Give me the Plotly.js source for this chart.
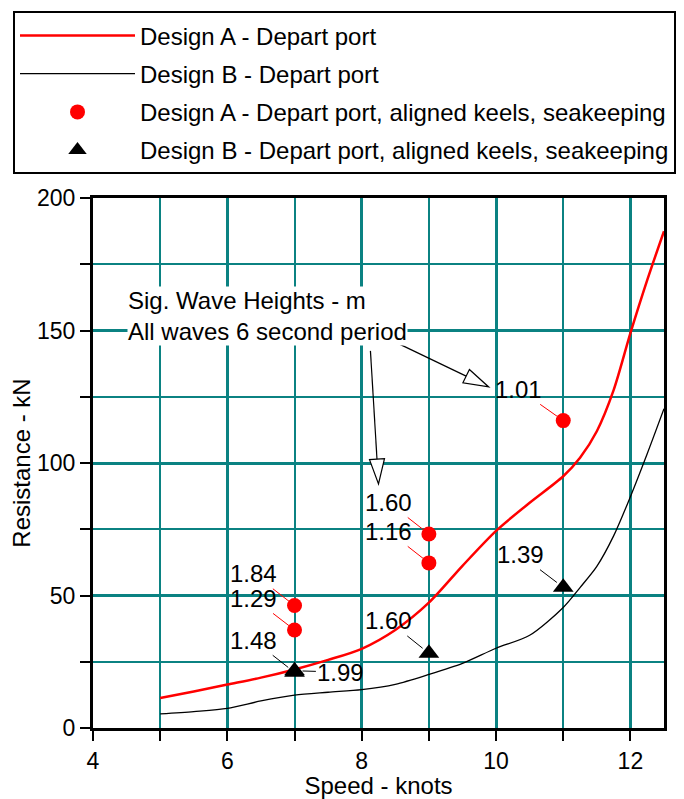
<!DOCTYPE html>
<html><head><meta charset="utf-8">
<script src="https://cdn.plot.ly/plotly-3.0.1.min.js"></script>
<style>html,body{margin:0;padding:0;background:#fff;}</style>
</head><body><div id="chart" style="width:684px;height:799px;"></div>
<script>
// ---- data ----
const speedA = [5.0,5.5,6.0,6.5,7.0,7.5,8.0,8.5,9.0,9.5,10.0,10.5,11.0,11.25,11.5,11.75,12.0,12.25,12.5];
const resistA = [11.3,13.8,16.4,19.0,22.1,25.7,29.9,37.0,47.3,61.2,74.4,85.0,95.0,102.0,112.0,127.5,149.0,169.0,187.5];
const speedB = [5.0,5.5,6.0,6.5,7.0,7.5,8.0,8.5,9.0,9.5,10.0,10.5,11.0,11.25,11.5,11.75,12.0,12.25,12.5];
const resistB = [5.3,6.2,7.4,10.2,12.4,13.5,14.5,16.5,20.2,24.4,30.1,35.0,45.5,53,61,72.5,87.3,103.5,120.5];
const seaSpeedA = [7,7,9,9,11];
const seaResistA = [46.2,37.0,73.2,62.3,116.0];
const waveHeightA = ['1.84','1.29','1.60','1.16','1.01'];
const seaSpeedB = [7,7,9,11];
const seaResistB = [21.0,21.6,28.2,53.1];
const waveHeightB = ['1.48','1.99','1.60','1.39'];
const seriesNames = ['Design A - Depart port','Design B - Depart port',
  'Design A - Depart port, aligned keels, seakeeping','Design B - Depart port, aligned keels, seakeeping'];
const noteText = 'Sig. Wave Heights - m<br>All waves 6 second period';

// ---- layout helpers (label placement, not data) ----
const labelPosA = [[6.39,58.2],[6.39,48.9],[8.40,85.1],[8.40,74.2],[10.34,127.8]];
const labelPosB = [[6.39,33.1],[7.69,21.1],[8.40,40.4],[10.36,65.4]];
const notePos = [4.50,155.6];
const noteArrows = [ {tail:[8.13,142.3], tip:[8.25,92.1]}, {tail:[8.50,145.6], tip:[9.89,128.7]} ];

const FONT = 'Liberation Sans, Arial, sans-serif';
const GRID = '#0b8282';
const W = 684, H = 799, M = {l:93, r:20, t:194, b:71};
const XR = [4,12.5], YR = [0,200];
const kx = (W-M.l-M.r)/(XR[1]-XR[0]);
const ky = (H-M.t-M.b)/(YR[1]-YR[0]);
const TXT = 24, TICK = 23;

const traces = [
  {x:speedA, y:resistA, mode:'lines', name:seriesNames[0], legendgroup:'a',
   line:{color:'#ff0000', width:2.5, shape:'spline', smoothing:0.8}},
  {x:speedB, y:resistB, mode:'lines', name:seriesNames[1], legendgroup:'b',
   line:{color:'#000000', width:1.3, shape:'spline', smoothing:0.8}},
  {x:seaSpeedA, y:seaResistA, mode:'markers', name:seriesNames[2], legendgroup:'c',
   marker:{color:'#ff0000', size:15, symbol:'circle'}},
  {x:seaSpeedB, y:seaResistB, mode:'markers', name:seriesNames[3], legendgroup:'d',
   marker:{color:'#000000', size:18, symbol:'triangle-up'}}
];

const annotations = [];
seaSpeedA.forEach((s,i)=>{
  annotations.push({x:s, y:seaResistA[i], xref:'x', yref:'y', text:waveHeightA[i],
    ax:labelPosA[i][0], ay:labelPosA[i][1], axref:'x', ayref:'y',
    showarrow:true, arrowhead:0, arrowwidth:1, arrowcolor:'#ff0000', standoff:7,
    font:{family:FONT, size:TXT, color:'#000'}});
});
seaSpeedB.forEach((s,i)=>{
  annotations.push({x:s, y:seaResistB[i], xref:'x', yref:'y', text:waveHeightB[i],
    ax:labelPosB[i][0], ay:labelPosB[i][1], axref:'x', ayref:'y',
    showarrow:true, arrowhead:0, arrowwidth:1, arrowcolor:'#000000', standoff:8,
    font:{family:FONT, size:TXT, color:'#000'}});
});
annotations.push({x:notePos[0], y:notePos[1], xref:'x', yref:'y', text:noteText,
  showarrow:false, xanchor:'left', yanchor:'middle', align:'left', bgcolor:'#ffffff',
  borderpad:0, font:{family:FONT, size:TXT, color:'#000'}});

const shapes = [];
noteArrows.forEach(a=>{
  const dxp = (a.tip[0]-a.tail[0])*kx, dyp = (a.tip[1]-a.tail[1])*ky;
  const L = Math.hypot(dxp,dyp), ux = dxp/L, uy = dyp/L;
  const hl = 25, hw = 7.5;
  const bx = a.tip[0] - ux*hl/kx, by = a.tip[1] - uy*hl/ky;
  const c1 = [bx + (-uy)*hw/kx, by + (ux)*hw/ky];
  const c2 = [bx - (-uy)*hw/kx, by - (ux)*hw/ky];
  shapes.push({type:'line', xref:'x', yref:'y', x0:a.tail[0], y0:a.tail[1], x1:bx, y1:by,
    line:{color:'#000', width:1.2}});
  shapes.push({type:'path', xref:'x', yref:'y',
    path:`M${c1[0]},${c1[1]} L${a.tip[0]},${a.tip[1]} L${c2[0]},${c2[1]} Z`,
    fillcolor:'#ffffff', line:{color:'#000', width:1.2}});
});

const layout = {
  width:W, height:H, margin:M, paper_bgcolor:'#fff', plot_bgcolor:'#fff',
  font:{family:FONT, size:TXT, color:'#000'},
  showlegend:true,
  legend:{x:(13-M.l)/(W-M.l-M.r), y:(H-M.b-6)/(H-M.t-M.b), xanchor:'left', yanchor:'top',
    bordercolor:'#000', borderwidth:2, bgcolor:'#fff', itemwidth:115, tracegroupgap:4,
    font:{family:FONT, size:TXT, color:'#000'}, itemsizing:'trace'},
  xaxis:{range:XR, tick0:4, dtick:2, showgrid:true, gridcolor:GRID, gridwidth:3,
    zeroline:false, showline:true, linecolor:'#000', linewidth:3, mirror:true,
    ticks:'outside', ticklen:10, tickwidth:2, tickcolor:'#000',
    tickfont:{family:FONT, size:TICK, color:'#000'},
    minor:{dtick:1, tick0:4, ticks:'outside', ticklen:10, tickwidth:2, tickcolor:'#000',
      showgrid:true, gridcolor:GRID, gridwidth:2},
    title:{text:'Speed - knots', standoff:8, font:{family:FONT, size:TXT, color:'#000'}}},
  yaxis:{range:YR, tick0:0, dtick:50, showgrid:true, gridcolor:GRID, gridwidth:3,
    zeroline:false, showline:true, linecolor:'#000', linewidth:3, mirror:true,
    ticks:'outside', ticklen:10, tickwidth:2, tickcolor:'#000',
    tickfont:{family:FONT, size:TICK, color:'#000'},
    minor:{dtick:25, tick0:0, ticks:'outside', ticklen:10, tickwidth:2, tickcolor:'#000',
      showgrid:true, gridcolor:GRID, gridwidth:2},
    title:{text:'Resistance - kN', standoff:0, font:{family:FONT, size:TXT, color:'#000'}}},
  annotations:annotations, shapes:shapes
};
Plotly.newPlot('chart', traces, layout, {displayModeBar:false, staticPlot:true});
</script></body></html>
